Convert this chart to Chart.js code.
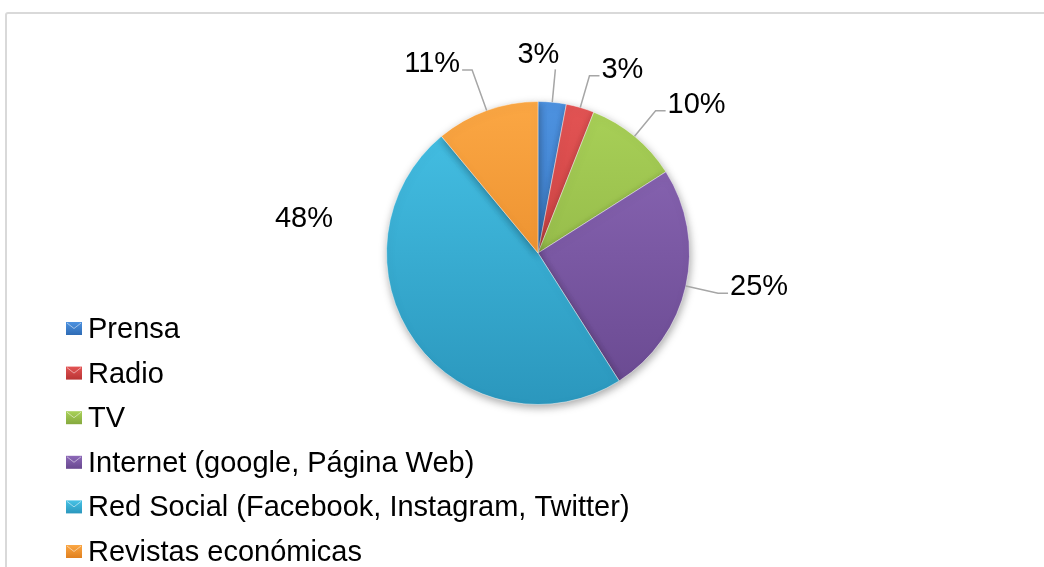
<!DOCTYPE html>
<html>
<head>
<meta charset="utf-8">
<script src="https://cdn.jsdelivr.net/npm/chart.js@4"></script>
<style>
    html, body { margin: 0; padding: 0; background: #fff; }
    #wrap { position: relative; width: 1044px; height: 567px; overflow: hidden; }
    #frame {
        position: absolute; left: 5px; top: 12px; width: 1100px; height: 600px;
        border: 2px solid #d9d9d9; border-radius: 3px; box-sizing: border-box;
    }
    #pie { position: absolute; left: 0; top: 0; }
</style>
</head>
<body>
<div id="wrap">
    <div id="frame"></div>
    <canvas id="pie" width="1044" height="567"></canvas>
</div>
<script>
const labels = [
    'Prensa',
    'Radio',
    'TV',
    'Internet (google, Página Web)',
    'Red Social (Facebook, Instagram, Twitter)',
    'Revistas económicas'
];
const shares = [3, 3, 10, 25, 48, 11];

// light / dark tone of each slice, used for the top-to-bottom shading
const lightColors = ['#4d92e0', '#e35454', '#a9d158', '#8d69b8', '#46c2e6', '#fba744'];
const darkColors = ['#2f6cb5', '#b93434', '#85a93e', '#68488f', '#2b97bd', '#e0801f'];

const FONT = '"Liberation Sans", Arial, sans-serif';

function shade(ctx, i) {
    const area = ctx.chart.chartArea;
    if (!area) return lightColors[i];
    const g = ctx.chart.ctx.createLinearGradient(0, area.top, 0, area.bottom);
    g.addColorStop(0, lightColors[i]);
    g.addColorStop(1, darkColors[i]);
    return g;
}

// soft drop shadow under the pie
const pieShadow = {
    id: 'pieShadow',
    beforeDatasetsDraw(chart) {
        const c = chart.ctx;
        c.save();
        c.shadowColor = 'rgba(0,0,0,0.35)';
        c.shadowBlur = 8;
        c.shadowOffsetX = 1;
        c.shadowOffsetY = 3;
    },
    afterDatasetsDraw(chart) {
        chart.ctx.restore();
    }
};

// percentage labels with leader lines
const pctLabels = {
    id: 'pctLabels',
    afterDatasetsDraw(chart, args, opts) {
        const c = chart.ctx;
        const meta = chart.getDatasetMeta(0);
        c.save();
        c.font = opts.size + 'px ' + FONT;
        c.fillStyle = '#000';
        c.strokeStyle = '#a6a6a6';
        c.lineWidth = 1.5;
        meta.data.forEach((arc, i) => {
            const p = arc.getProps(['x', 'y', 'startAngle', 'endAngle', 'outerRadius'], true);
            const text = chart.data.datasets[0].data[i] + '%';
            const free = opts.free[i];
            if (free) {
                c.textAlign = 'center';
                c.fillText(text, p.x + free[0], p.y + free[1]);
                return;
            }
            const mid = (p.startAngle + p.endAngle) / 2;
            const cos = Math.cos(mid), sin = Math.sin(mid);
            const reach = opts.reachFor[i] || opts.reach;
            const sx = p.x + cos * p.outerRadius, sy = p.y + sin * p.outerRadius;
            const ex = p.x + cos * (p.outerRadius + reach);
            const ey = p.y + sin * (p.outerRadius + reach);
            c.beginPath();
            c.moveTo(sx, sy);
            c.lineTo(ex, ey);
            if (Math.abs(cos) < 0.15) {
                c.stroke();
                c.textAlign = 'center';
                c.fillText(text, ex + (opts.nudge[i] || 0), ey - 6);
            } else {
                const dir = cos > 0 ? 1 : -1;
                const hx = ex + dir * opts.tail;
                c.lineTo(hx, ey);
                c.stroke();
                c.textAlign = dir > 0 ? 'left' : 'right';
                c.fillText(text, hx + dir * 2, ey + 2);
            }
        });
        c.restore();
    }
};

// legend stacked in the lower left corner
const cornerLegend = {
    id: 'cornerLegend',
    afterDraw(chart, args, opts) {
        const c = chart.ctx;
        c.save();
        c.font = opts.size + 'px ' + FONT;
        c.textAlign = 'left';
        c.textBaseline = 'alphabetic';
        chart.data.labels.forEach((label, i) => {
            const base = opts.top + i * opts.step;
            const bx = opts.left, by = base - 16, bw = 16, bh = 13;
            const g = c.createLinearGradient(0, by, 0, by + bh);
            g.addColorStop(0, lightColors[i]);
            g.addColorStop(1, darkColors[i]);
            c.fillStyle = g;
            c.fillRect(bx, by, bw, bh);
            c.strokeStyle = 'rgba(255,255,255,0.5)';
            c.lineWidth = 1;
            c.beginPath();
            c.moveTo(bx + 1, by + 1);
            c.lineTo(bx + bw / 2, by + bh / 2);
            c.lineTo(bx + bw - 1, by + 1);
            c.stroke();
            c.fillStyle = '#000';
            c.fillText(label, bx + 22, base);
        });
        c.restore();
    }
};

new Chart(document.getElementById('pie').getContext('2d'), {
    type: 'pie',
    data: {
        labels: labels,
        datasets: [{
            data: shares,
            backgroundColor: ctx => shade(ctx, ctx.dataIndex),
            borderColor: 'rgba(255,255,255,0.45)',
            borderWidth: 1
        }]
    },
    options: {
        responsive: false,
        animation: false,
        layout: {
            padding: { top: 101, bottom: 162, left: 386, right: 354 }
        },
        plugins: {
            legend: { display: false },
            tooltip: { enabled: false },
            pctLabels: {
                size: 29, reach: 33, tail: 10,
                reachFor: { 5: 43 },
                nudge: { 0: -17 },
                free: { 4: [-234, -26] }
            },
            cornerLegend: { size: 29, left: 66, top: 338, step: 44.6 }
        }
    },
    plugins: [pieShadow, pctLabels, cornerLegend]
});
</script>
</body>
</html>
